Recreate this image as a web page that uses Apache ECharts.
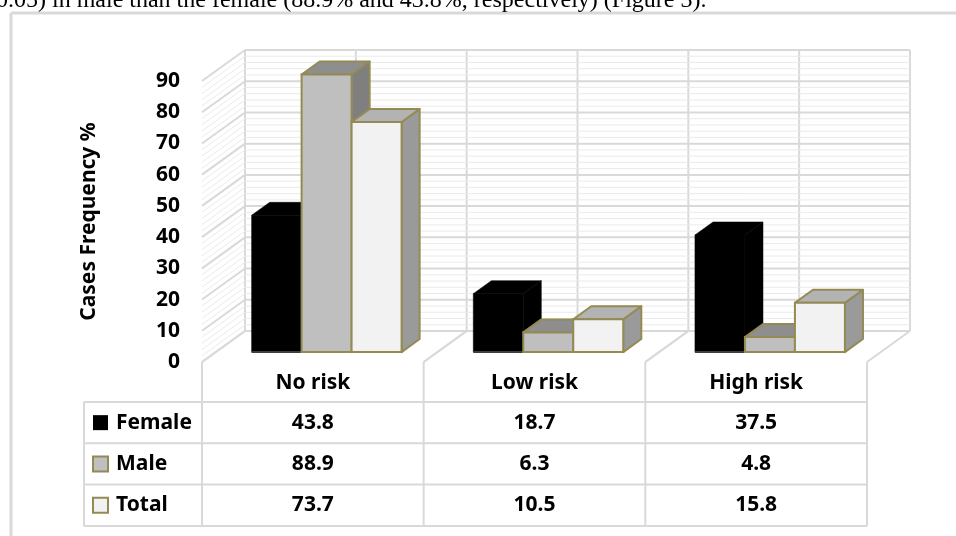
<!DOCTYPE html>
<html>
<head>
<meta charset="utf-8">
<script src="https://cdn.jsdelivr.net/npm/echarts@6/dist/echarts.min.js"></script>
<style>
  html, body { margin: 0; padding: 0; background: #ffffff; }
  #chart { width: 956px; height: 536px; }
</style>
</head>
<body>
<div id="chart"></div>
<script>
// ---- data ----
const categories = ['No risk', 'Low risk', 'High risk'];
const seriesNames = ['Female', 'Male', 'Total'];
const female = [43.8, 18.7, 37.5];
const male = [88.9, 6.3, 4.8];
const total = [73.7, 10.5, 15.8];
const yTicks = [0, 10, 20, 30, 40, 50, 60, 70, 80, 90];
const yMinorStep = 2;
const caption = '0.05) in male than the female (88.9% and 43.8%, respectively) (Figure 3).';

// ---- styling ----
const FONT = 'Noto Sans';
const FONT_SIZE = 21;
const EDGE = '#948a54';
const GRID_MAJOR = '#d9d9d9';
const GRID_MINOR = '#ebebeb';
const FRAME = '#d9d9d9';
const faces = [
  { front: '#000000', top: '#000000', side: '#000000', stroke: null },
  { front: '#bfbfbf', top: '#8e8e8e', side: '#7f7f7f', stroke: EDGE },
  { front: '#f2f2f2', top: '#b3b3b3', side: '#9a9a9a', stroke: EDGE }
];
const WALL_DX = 43, WALL_DY = -31;      // oblique depth of the plot box
const BAR_FRONT = 0.32;                 // bar front face, as fraction of depth
const BAR_DEPTH = 0.42;                 // bar thickness, as fraction of depth
const BAR_FRAC = 0.2255;                // bar width, fraction of category width
const HEADER_H = 40, ROW_H = 41.3, LEGEND_W = 118;

const yMin = yTicks[0], yMax = yTicks[yTicks.length - 1], yStep = yTicks[1] - yTicks[0];
const gridValues = [];
for (let v = yMin; v <= yMax + 1e-9; v += yMinorStep) gridValues.push(v);

function line(x1, y1, x2, y2, color, w) {
  return { type: 'line', shape: { x1, y1, x2, y2 }, style: { stroke: color, lineWidth: w } };
}

// back wall, side wall and floor of the 3D box
function renderWalls(params, api) {
  const cs = params.coordSys;
  const L = cs.x, R = cs.x + cs.width;
  const v = api.value(0);
  const y = api.coord([0, v])[1];
  const major = Math.abs(v % yStep) < 1e-9;
  const col = major ? GRID_MAJOR : GRID_MINOR;
  const w = major ? 2 : 1;
  const children = [
    line(L + WALL_DX, y + WALL_DY, R + WALL_DX, y + WALL_DY, col, w),
    line(L, y, L + WALL_DX, y + WALL_DY, col, w)
  ];
  if (params.dataIndex === 0) {
    const y0 = api.coord([0, yMin])[1];
    const yTop = api.coord([0, yMax])[1];
    const cw = api.size([1, 0])[0];
    for (let i = 0; i < categories.length; i++) {
      const cx = api.coord([i, 0])[0];
      const xs = [cx - cw / 2, cx];
      if (i === categories.length - 1) xs.push(cx + cw / 2);
      xs.forEach(function (x) {
        children.push(line(x + WALL_DX, y0 + WALL_DY, x + WALL_DX, yTop + WALL_DY, GRID_MAJOR, 2));
      });
      [cx - cw / 2, cx + cw / 2].forEach(function (x) {
        children.push(line(x, y0, x + WALL_DX, y0 + WALL_DY, GRID_MAJOR, 2));
      });
    }
  }
  return { type: 'group', children };
}

// one 3D box per data item
function makeBarRender(si) {
  return function (params, api) {
    const ci = api.value(0), v = api.value(1);
    const top = api.coord([ci, v]);
    const base = api.coord([ci, 0]);
    const cw = api.size([1, 0])[0];
    const bw = cw * BAR_FRAC;
    const fx = WALL_DX * BAR_FRONT, fy = WALL_DY * BAR_FRONT;
    const dx = WALL_DX * BAR_DEPTH, dy = WALL_DY * BAR_DEPTH;
    const x0 = top[0] + (si - 1.5) * bw + fx;
    const x1 = x0 + bw;
    const yT = top[1] + fy;
    const yB = base[1] + fy;
    const f = faces[si];
    const stroke = f.stroke || f.front;
    const lw = f.stroke ? 2 : 0.5;
    const children = [
      { type: 'polygon', shape: { points: [[x1, yT], [x1 + dx, yT + dy], [x1 + dx, yB + dy], [x1, yB]] },
        style: { fill: f.side, stroke: stroke, lineWidth: lw, lineJoin: 'round' } },
      { type: 'polygon', shape: { points: [[x0, yT], [x1, yT], [x1 + dx, yT + dy], [x0 + dx, yT + dy]] },
        style: { fill: f.top, stroke: stroke, lineWidth: lw, lineJoin: 'round' } },
      { type: 'rect', shape: { x: x0, y: yT, width: bw, height: yB - yT },
        style: { fill: f.front, stroke: stroke, lineWidth: lw } }
    ];
    if (!f.stroke) children.push(line(x0, yB, x1, yB, '#3f3f3f', 2));
    return { type: 'group', children };
  };
}

// data table under the plot, with the legend keys in its first column
function renderTable(params, api) {
  const ci = api.value(0);
  const cw = api.size([1, 0])[0];
  const cx = api.coord([ci, 0])[0];
  const y0 = api.coord([ci, yMin])[1];
  const xl = cx - cw / 2, xr = cx + cw / 2;
  const yEnd = y0 + HEADER_H + ROW_H * seriesNames.length;
  const txt = function (x, y, s, align) {
    return { type: 'text', style: { x, y, text: s, fill: '#000',
      font: 'bold ' + FONT_SIZE + 'px "' + FONT + '"',
      align: align || 'center', verticalAlign: 'middle' } };
  };
  const children = [
    line(xl, y0, xl, yEnd, GRID_MAJOR, 2),
    txt(cx, y0 + HEADER_H / 2 + 1, categories[ci])
  ];
  if (ci === categories.length - 1) children.push(line(xr, y0, xr, yEnd, GRID_MAJOR, 2));
  for (let r = 0; r < seriesNames.length; r++) {
    const yr = y0 + HEADER_H + ROW_H * r;
    children.push(line(ci === 0 ? xl - LEGEND_W : xl, yr, xr, yr, GRID_MAJOR, 2));
    children.push(txt(cx, yr + ROW_H / 2, api.value(r + 1).toFixed(1)));
  }
  children.push(line(ci === 0 ? xl - LEGEND_W : xl, yEnd, xr, yEnd, GRID_MAJOR, 2));
  if (ci === 0) {
    const lx = xl - LEGEND_W;
    children.push(line(lx, y0 + HEADER_H, lx, yEnd, GRID_MAJOR, 2));
    for (let r = 0; r < seriesNames.length; r++) {
      const ym = y0 + HEADER_H + ROW_H * r + ROW_H / 2;
      const f = faces[r];
      children.push({ type: 'rect', shape: { x: lx + 9, y: ym - 7.5, width: 15, height: 15 },
        style: { fill: f.front, stroke: f.stroke || f.front, lineWidth: f.stroke ? 2 : 0 } });
      children.push(txt(lx + 32, ym, seriesNames[r], 'left'));
    }
  }
  return { type: 'group', children };
}

const chart = echarts.init(document.getElementById('chart'), null, { renderer: 'canvas' });
const barSeries = [female, male, total].map(function (vals, si) {
  return {
    name: seriesNames[si],
    type: 'custom',
    z: 3,
    renderItem: makeBarRender(si),
    encode: { x: 0, y: 1 },
    data: vals.map(function (v, i) { return [i, v]; })
  };
});

chart.setOption({
  backgroundColor: '#ffffff',
  animation: false,
  grid: { left: 202, right: 89, top: 81, bottom: 174 },
  xAxis: {
    type: 'category', data: categories,
    axisLine: { show: false }, axisTick: { show: false }, axisLabel: { show: false }, splitLine: { show: false }
  },
  yAxis: {
    type: 'value', min: yMin, max: yMax, interval: yStep,
    axisLine: { show: false }, axisTick: { show: false }, splitLine: { show: false },
    axisLabel: { margin: 22, fontFamily: FONT, fontWeight: 'bold', fontSize: FONT_SIZE, color: '#000' },
    name: 'Cases Frequency %', nameLocation: 'middle', nameRotate: 90, nameGap: 102,
    nameTextStyle: { fontFamily: FONT, fontWeight: 'bold', fontSize: FONT_SIZE, color: '#000' }
  },
  graphic: [
    { type: 'line', shape: { x1: 11, y1: 13, x2: 956, y2: 13 }, style: { stroke: FRAME, lineWidth: 3 } },
    { type: 'line', shape: { x1: 11, y1: 13, x2: 11, y2: 536 }, style: { stroke: FRAME, lineWidth: 3 } },
    { type: 'text', style: { x: -4, y: 0.5, text: caption, font: '24px "Liberation Serif"', fill: '#000',
      verticalAlign: 'middle' } }
  ],
  series: [
    {
      type: 'custom', name: 'walls', z: 1, silent: true,
      renderItem: renderWalls,
      encode: { y: 0 },
      data: gridValues.map(function (v) { return [v]; })
    }
  ].concat(barSeries).concat([
    {
      type: 'custom', name: 'table', z: 4, silent: true,
      renderItem: renderTable,
      encode: { x: 0 },
      data: categories.map(function (c, i) { return [i, female[i], male[i], total[i]]; })
    }
  ])
});
</script>
</body>
</html>
